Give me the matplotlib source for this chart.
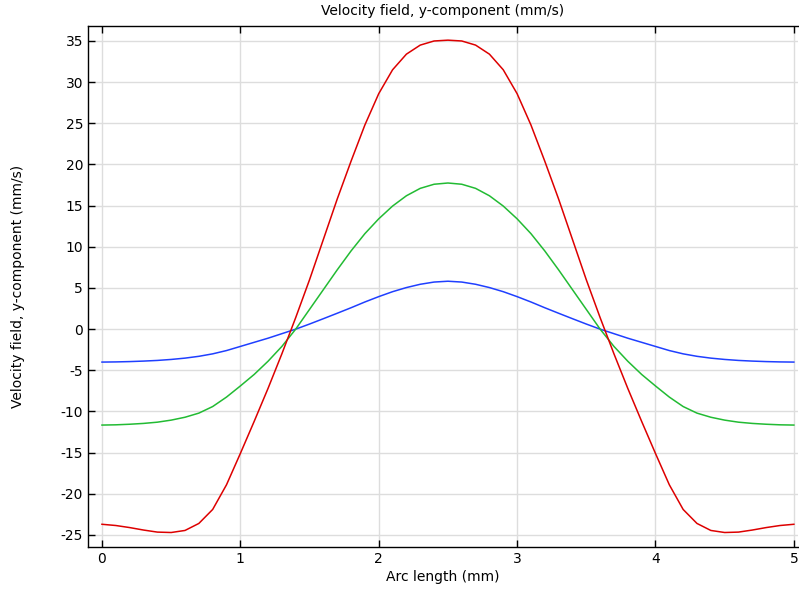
import matplotlib
matplotlib.use("Agg")
import matplotlib.pyplot as plt
from matplotlib.ticker import FuncFormatter

arc_length = [0.0, 0.1, 0.2, 0.3, 0.4, 0.5, 0.6, 0.7, 0.8, 0.9,
              1.0, 1.1, 1.2, 1.3, 1.4, 1.5, 1.6, 1.7, 1.8, 1.9,
              2.0, 2.1, 2.2, 2.3, 2.4, 2.5, 2.6, 2.7, 2.8, 2.9,
              3.0, 3.1, 3.2, 3.3, 3.4, 3.5, 3.6, 3.7, 3.8, 3.9,
              4.0, 4.1, 4.2, 4.3, 4.4, 4.5, 4.6, 4.7, 4.8, 4.9, 5.0]

red_vals = [-23.7, -23.85, -24.1, -24.4, -24.65, -24.7, -24.45, -23.6, -21.9, -18.9,
            -15.1, -11.2, -7.2, -3.0, 1.4, 6.0, 10.9, 15.8, 20.4, 24.8,
            28.6, 31.5, 33.4, 34.5, 35.0, 35.1, 35.0, 34.5, 33.4, 31.5,
            28.6, 24.8, 20.4, 15.8, 10.9, 6.0, 1.4, -3.0, -7.2, -11.2,
            -15.1, -18.9, -21.9, -23.6, -24.45, -24.7, -24.65, -24.4, -24.1, -23.85, -23.7]

green_vals = [-11.65, -11.62, -11.55, -11.45, -11.3, -11.05, -10.7, -10.2, -9.4, -8.25,
              -6.9, -5.5, -3.9, -2.1, 0.0, 2.4, 4.8, 7.2, 9.5, 11.6,
              13.4, 14.95, 16.2, 17.1, 17.6, 17.75, 17.6, 17.1, 16.2, 14.95,
              13.4, 11.6, 9.5, 7.2, 4.8, 2.4, 0.0, -2.1, -3.9, -5.5,
              -6.9, -8.25, -9.4, -10.2, -10.7, -11.05, -11.3, -11.45, -11.55, -11.62, -11.65]

blue_vals = [-4.0, -3.98, -3.94, -3.88, -3.8, -3.68, -3.52, -3.3, -3.0, -2.6,
             -2.1, -1.6, -1.1, -0.55, 0.0, 0.62, 1.27, 1.93, 2.6, 3.3,
             3.95, 4.55, 5.05, 5.45, 5.72, 5.82, 5.72, 5.45, 5.05, 4.55,
             3.95, 3.3, 2.6, 1.93, 1.27, 0.62, 0.0, -0.55, -1.1, -1.6,
             -2.1, -2.6, -3.0, -3.3, -3.52, -3.68, -3.8, -3.88, -3.94, -3.98, -4.0]

x_ticks = [0, 1, 2, 3, 4, 5]
y_ticks = [-25, -20, -15, -10, -5, 0, 5, 10, 15, 20, 25, 30, 35]

plt.rcParams['font.family'] = ['DejaVu Sans']
fig = plt.figure(figsize=(7.99, 5.89), dpi=100)
ax = fig.add_axes([88 / 799, 1 - 547 / 589, 710 / 799, (547 - 26) / 589])

ax.plot(arc_length, blue_vals, color='#1f3fff', lw=1.1, solid_joinstyle='round')
ax.plot(arc_length, green_vals, color='#22bb33', lw=1.1, solid_joinstyle='round')
ax.plot(arc_length, red_vals, color='#dd0000', lw=1.1, solid_joinstyle='round')

ax.set_xlim(-0.101, 5.03)
ax.set_ylim(-26.46, 36.82)
ax.set_xticks(x_ticks)
ax.set_yticks(y_ticks)
ax.yaxis.set_major_formatter(FuncFormatter(lambda v, p: f"{int(v)}"))
ax.grid(True, color='#dddddd', lw=1)
ax.set_axisbelow(True)
ax.tick_params(direction='in', length=5, width=1, top=True, right=False,
               labelsize=10, colors='black')
for s in ['left', 'bottom', 'top']:
    ax.spines[s].set_linewidth(1)
ax.spines['right'].set_visible(False)

ax.set_title('Velocity field, y-component (mm/s)', fontsize=10, pad=8)
ax.set_xlabel('Arc length (mm)', fontsize=10, labelpad=3)
ax.set_ylabel('Velocity field, y-component (mm/s)', fontsize=10, labelpad=26)

fig.savefig('out.png', dpi=100)
